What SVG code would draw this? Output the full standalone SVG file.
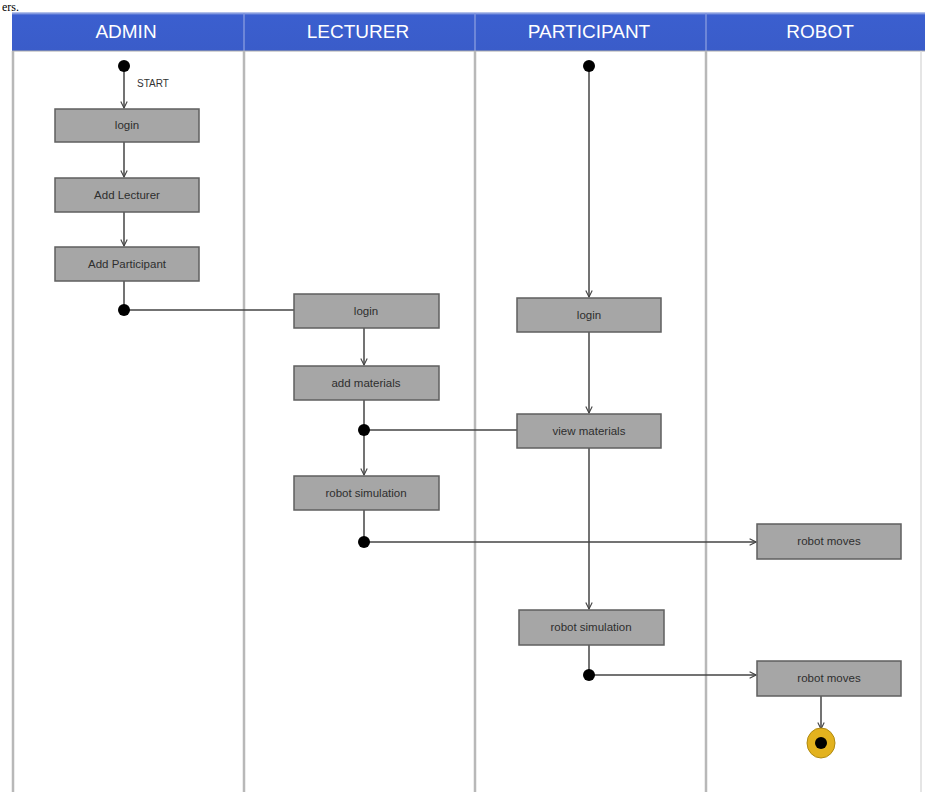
<svg xmlns="http://www.w3.org/2000/svg" width="925" height="792" viewBox="0 0 925 792">
<defs>
<style>
.hdr{font-family:"Liberation Sans",Arial,sans-serif;font-size:19px;fill:#ffffff;text-anchor:middle}
.box{fill:#a6a6a6;stroke:#5f5f5f;stroke-width:1.5}
.lbl{font-family:"Liberation Sans",Arial,sans-serif;font-size:11.5px;fill:#2e2e2e;text-anchor:middle}
.lane{stroke:#b8b8b8;stroke-width:2.5;fill:none}
.edge{stroke:#444444;stroke-width:1.5;fill:none}
.dot{fill:#000000}
</style>
<marker id="arr" viewBox="0 0 10 10" refX="9" refY="5" markerWidth="8" markerHeight="8" orient="auto" markerUnits="userSpaceOnUse">
<path d="M1,1 L9,5 L1,9" fill="none" stroke="#444444" stroke-width="1.4"/>
</marker>
<linearGradient id="hg" x1="0" y1="0" x2="0" y2="1">
<stop offset="0" stop-color="#c9d3ef"/>
<stop offset="0.08" stop-color="#3b5fcf"/>
<stop offset="1" stop-color="#3a5cc9"/>
</linearGradient>
</defs>
<rect x="0" y="0" width="925" height="792" fill="#ffffff"/>
<text x="2" y="11" font-family="Liberation Serif,serif" font-size="12" fill="#000">ers.</text>
<g id="lanes">
<rect x="12" y="12" width="913" height="39" fill="url(#hg)"/>
<line x1="244" y1="13" x2="244" y2="51" stroke="#7f95dd" stroke-width="1.5"/>
<line x1="475" y1="13" x2="475" y2="51" stroke="#7f95dd" stroke-width="1.5"/>
<line x1="706" y1="13" x2="706" y2="51" stroke="#7f95dd" stroke-width="1.5"/>
<line x1="12" y1="51" x2="925" y2="51" stroke="#aaaaaa" stroke-width="1"/>
<line class="lane" x1="13" y1="51" x2="13" y2="792"/>
<line class="lane" x1="244" y1="51" x2="244" y2="792"/>
<line class="lane" x1="475" y1="51" x2="475" y2="792"/>
<line class="lane" x1="706" y1="51" x2="706" y2="792"/>
<line x1="921" y1="51" x2="921" y2="792" stroke="#dddddd" stroke-width="1.5"/>
<text class="hdr" x="126" y="38">ADMIN</text>
<text class="hdr" x="358" y="38">LECTURER</text>
<text class="hdr" x="589" y="38">PARTICIPANT</text>
<text class="hdr" x="820" y="38">ROBOT</text>
</g>
<g id="connectors">
<line class="edge" x1="124" y1="66" x2="124" y2="108" marker-end="url(#arr)"/>
<text x="137" y="87" font-family="Liberation Sans,Arial,sans-serif" font-size="10" fill="#333">START</text>
<line class="edge" x1="124" y1="142" x2="124" y2="177" marker-end="url(#arr)"/>
<line class="edge" x1="124" y1="212" x2="124" y2="246" marker-end="url(#arr)"/>
<line class="edge" x1="124" y1="281" x2="124" y2="310"/>
<line class="edge" x1="124" y1="310" x2="294" y2="310"/>
<line class="edge" x1="364" y1="328" x2="364" y2="365" marker-end="url(#arr)"/>
<line class="edge" x1="364" y1="400" x2="364" y2="475" marker-end="url(#arr)"/>
<line class="edge" x1="364" y1="430" x2="517" y2="430"/>
<line class="edge" x1="364" y1="510" x2="364" y2="542"/>
<line class="edge" x1="364" y1="542" x2="756" y2="542" marker-end="url(#arr)"/>
<line class="edge" x1="589" y1="66" x2="589" y2="297" marker-end="url(#arr)"/>
<line class="edge" x1="589" y1="332" x2="589" y2="413" marker-end="url(#arr)"/>
<line class="edge" x1="589" y1="448" x2="589" y2="609" marker-end="url(#arr)"/>
<line class="edge" x1="589" y1="645" x2="589" y2="675"/>
<line class="edge" x1="589" y1="675" x2="756" y2="675" marker-end="url(#arr)"/>
<line class="edge" x1="821" y1="696" x2="821" y2="729" marker-end="url(#arr)"/>
</g>
<g id="admin_start"><circle class="dot" cx="124" cy="66" r="6"/></g>
<g id="admin_login"><rect class="box" x="55" y="109" width="144" height="33"/><text class="lbl" x="127" y="129">login</text></g>
<g id="add_lecturer"><rect class="box" x="55" y="178" width="144" height="34"/><text class="lbl" x="127" y="199">Add Lecturer</text></g>
<g id="add_participant"><rect class="box" x="55" y="247" width="144" height="34"/><text class="lbl" x="127" y="268">Add Participant</text></g>
<g id="admin_fork"><circle class="dot" cx="124" cy="310" r="6"/></g>
<g id="lecturer_login"><rect class="box" x="294" y="294" width="145" height="34"/><text class="lbl" x="366" y="315">login</text></g>
<g id="add_materials"><rect class="box" x="294" y="366" width="145" height="34"/><text class="lbl" x="366" y="387">add materials</text></g>
<g id="lecturer_fork1"><circle class="dot" cx="364" cy="430" r="6"/></g>
<g id="lecturer_robot_sim"><rect class="box" x="294" y="476" width="145" height="34"/><text class="lbl" x="366" y="497">robot simulation</text></g>
<g id="lecturer_fork2"><circle class="dot" cx="364" cy="542" r="6"/></g>
<g id="participant_start"><circle class="dot" cx="589" cy="66" r="6"/></g>
<g id="participant_login"><rect class="box" x="517" y="298" width="144" height="34"/><text class="lbl" x="589" y="319">login</text></g>
<g id="view_materials"><rect class="box" x="517" y="414" width="144" height="34"/><text class="lbl" x="589" y="435">view materials</text></g>
<g id="participant_robot_sim"><rect class="box" x="519" y="610" width="145" height="35"/><text class="lbl" x="591" y="631">robot simulation</text></g>
<g id="participant_fork"><circle class="dot" cx="589" cy="675" r="6"/></g>
<g id="robot_moves_1"><rect class="box" x="757" y="524" width="144" height="35"/><text class="lbl" x="829" y="545">robot moves</text></g>
<g id="robot_moves_2"><rect class="box" x="757" y="661" width="144" height="35"/><text class="lbl" x="829" y="682">robot moves</text></g>
<g id="end"><ellipse cx="821" cy="743" rx="14" ry="15" fill="#e3b21e" stroke="#b08a10" stroke-width="1"/><circle class="dot" cx="821" cy="743" r="6"/></g>
</svg>
